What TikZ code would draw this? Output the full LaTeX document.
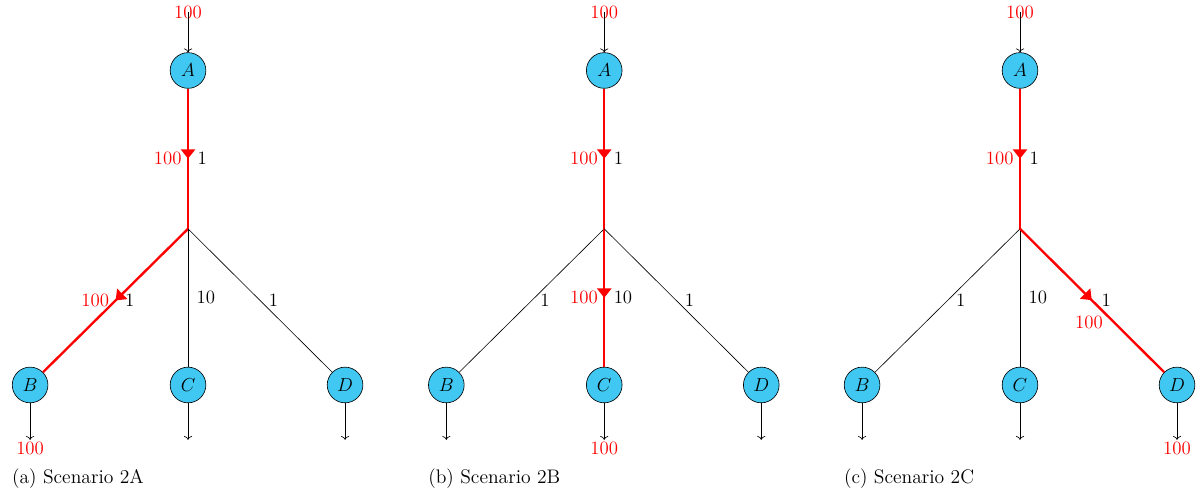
\documentclass[tikz,border=0pt]{standalone}
\usetikzlibrary{arrows.meta,decorations.markings}
\definecolor{nodeblue}{RGB}{64,200,242}
\begin{document}
\begin{tikzpicture}[>=To,font=\fontsize{12}{14}\selectfont,
		vertex/.style={circle,draw,thin,fill=nodeblue,minimum size=0.8cm,inner sep=0pt,font=\fontsize{13}{15}\selectfont},
		edge/.style={draw,thin},
		flow/.style={draw=red,line width=1.5pt,postaction={decorate},
				decoration={markings,mark=at position 0.5 with {\arrow[red]{Triangle[width=9pt,length=6pt]}}}},
		inout/.style={thin,->},
		weight/.style={right,xshift=2pt},
		amount/.style={text=red}]
	\useasboundingbox(-4.215,-5.9)rectangle(22.73,5.13);
	% the three panels share nodes and in/out arrows
	\foreach \s/\p/\q in {0/a/A,9.33/b/B,18.65/c/C}{
		\begin{scope}[xshift=\s cm,name prefix=\p-]
			\node[vertex](A) at (0,3.55){$A$};
			\coordinate(J) at (0,0);
			\node[vertex](B) at (-3.54,-3.5){$B$};
			\node[vertex](C) at (0,-3.5){$C$};
			\node[vertex](D) at (3.52,-3.5){$D$};
			\coordinate(in) at (0,4.85);
			\coordinate(Bo) at (-3.54,-4.73);
			\coordinate(Co) at (0,-4.73);
			\coordinate(Do) at (3.52,-4.73);
			\node[amount](inlabel) at (in){100};
			\draw[inout](in)--(A);
			\draw[inout](B)--(Bo);
			\draw[inout](C)--(Co);
			\draw[inout](D)--(Do);
			\node[anchor=west,inner sep=0pt,font=\fontsize{12.5}{15}\selectfont](caption) at (-3.95,-5.6){(\p) Scenario 2\q};
		\end{scope}
	}
	% (a) flow to B
	\draw[flow](a-A)--(a-J)node[midway,left,amount]{100}node[midway,weight]{1};
	\draw[flow](a-J)--(a-B)node[midway,left,amount]{100}node[midway,weight]{1};
	\draw[edge](a-J)--(a-C)node[midway,weight]{10};
	\draw[edge](a-J)--(a-D)node[midway,weight]{1};
	\node[amount,below,inner sep=1pt](a-out) at (a-Bo){100};
	% (b) flow to C
	\draw[flow](b-A)--(b-J)node[midway,left,amount]{100}node[midway,weight]{1};
	\draw[edge](b-J)--(b-B)node[midway,weight]{1};
	\draw[flow](b-J)--(b-C)node[midway,left,amount]{100}node[midway,weight]{10};
	\draw[edge](b-J)--(b-D)node[midway,weight]{1};
	\node[amount,below,inner sep=1pt](b-out) at (b-Co){100};
	% (c) flow to D
	\draw[flow](c-A)--(c-J)node[midway,left,amount]{100}node[midway,weight]{1};
	\draw[edge](c-J)--(c-B)node[midway,weight]{1};
	\draw[edge](c-J)--(c-C)node[midway,weight]{10};
	\draw[flow](c-J)--(c-D)node[midway,below,amount,yshift=-6pt,xshift=-2pt]{100}node[midway,weight]{1};
	\node[amount,below,inner sep=1pt](c-out) at (c-Do){100};
\end{tikzpicture}
\end{document}
